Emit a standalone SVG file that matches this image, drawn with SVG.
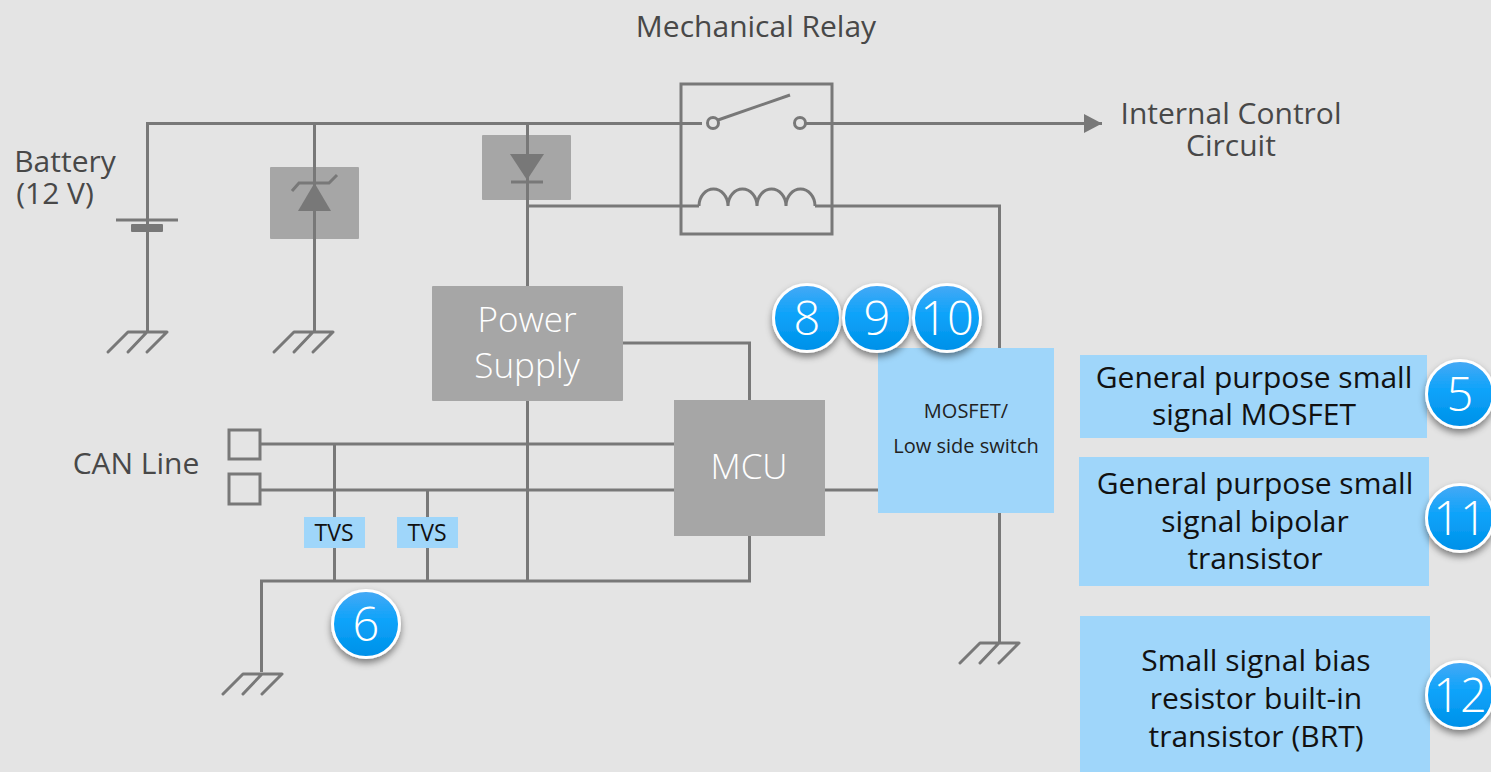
<svg xmlns="http://www.w3.org/2000/svg" width="1491" height="772" viewBox="0 0 1491 772">
<style>
text{font-family:"Open Sans","Noto Sans","Liberation Sans",sans-serif;text-anchor:middle}
.w{fill:none;stroke:#787878;stroke-width:3;stroke-linejoin:miter}
.f{fill:#787878;stroke:none}
.gb{fill:#a6a6a6}
.lb{fill:#9fd6fa}
.d{fill:#484848;font-size:30px}
.k{fill:#111;font-size:30px}
.s{fill:#222;font-size:20px}
.t{fill:#111;font-size:23px}
.wt{fill:#fff;font-size:35px;font-weight:300}
.badge{fill:url(#bg);stroke:#fff;stroke-width:3;filter:url(#sh)}
.n{fill:#fff;font-size:47px;font-weight:300}
</style>
<defs>
<linearGradient id="bg" x1="0" y1="0" x2="0" y2="1"><stop offset="0" stop-color="#47a9f5"/><stop offset=".45" stop-color="#0ca3fa"/><stop offset="1" stop-color="#0090e8"/></linearGradient>
<filter id="sh" x="-30%" y="-30%" width="160%" height="170%"><feDropShadow dx="0" dy="4" stdDeviation="3.5" flood-color="#000" flood-opacity=".45"/></filter>
<marker id="arr" markerUnits="userSpaceOnUse" markerWidth="19" markerHeight="19" refX="18" refY="9.5" orient="auto"><path d="M0 0L18 9.5L0 19Z" fill="#787878"/></marker>
<g id="gnd"><path class="w" d="M0 0H39M0 0L-20 20M19 0L0 20M39 0L19 20" style="stroke-linecap:round"/></g>
</defs>
<rect width="1491" height="772" fill="#e4e4e4"/>

<g id="connectors">
<path class="w" d="M147.500 276V123.500H702"/>
<path class="w" d="M147.500 276V332"/>
<path class="w" d="M314.500 123V332"/>
<path class="w" d="M527.500 123V286"/>
<path class="w" d="M527 206H699"/>
<path class="w" d="M806 123.500H1102" marker-end="url(#arr)"/>
<path class="w" d="M815 206H999.500V348"/>
<path class="w" d="M623 343H749.500V400"/>
<path class="w" d="M527.500 401V581"/>
<path class="w" d="M261.500 672V581H749.500V536"/>
<path class="w" d="M261 444H674"/>
<path class="w" d="M261 490H674"/>
<path class="w" d="M334.500 444V581"/>
<path class="w" d="M427.500 490V581"/>
<path class="w" d="M825 490H878"/>
<path class="w" d="M999.500 513V642"/>
</g>

<g id="tvs-diode"><rect x="270" y="167" width="89" height="72" rx="1" class="gb"/><path class="w" d="M314.500 123V240"/><path class="f" d="M314.500 183L331 211H298Z"/><path class="w" d="M292 191L299 183H329L337 175"/></g>
<g id="rect-diode"><rect x="482" y="135" width="89" height="65" rx="1" class="gb"/><path class="w" d="M527.500 123V200"/><path class="f" d="M510 154H544L527 180Z"/><path class="w" d="M511 182H543"/></g>

<g id="battery"><text class="d"><tspan x="65" y="172">Battery</tspan><tspan x="55" y="204">(12 V)</tspan></text><path class="w" d="M116 220H178"/><rect x="131" y="224" width="32" height="8" rx="1" class="f"/></g>
<g id="gnd1"><use href="#gnd" x="128" y="332"/></g>
<g id="gnd2"><use href="#gnd" x="294" y="332"/></g>
<g id="gnd3"><use href="#gnd" x="243" y="674"/></g>
<g id="gnd4"><use href="#gnd" x="980" y="643"/></g>

<g id="relay">
<rect x="681" y="84" width="151" height="150" class="w"/>
<circle cx="713" cy="123" r="5.5" fill="#e4e4e4" stroke="#787878" stroke-width="3"/>
<circle cx="800" cy="123" r="5.5" fill="#e4e4e4" stroke="#787878" stroke-width="3"/>
<path class="w" d="M718 120L790 95"/>
<path class="w" d="M699 206A14.500 17 0 0 1 728 206A14.500 17 0 0 1 757 206A14.500 17 0 0 1 786 206A14.500 17 0 0 1 815 206"/>
<text class="d" x="756" y="37">Mechanical Relay</text>
</g>
<g id="output-label"><text class="d"><tspan x="1231" y="124">Internal Control</tspan><tspan x="1231" y="156">Circuit</tspan></text></g>

<g id="power-supply"><rect x="432" y="286" width="191" height="115" rx="1" class="gb"/><text class="wt"><tspan x="527" y="332">Power</tspan><tspan x="527" y="378">Supply</tspan></text></g>
<g id="mcu"><rect x="674" y="400" width="151" height="136" class="gb"/><text class="wt" x="749" y="479">MCU</text></g>
<g id="mosfet"><rect x="878" y="348" width="176" height="165" class="lb"/><text class="s"><tspan x="966" y="418">MOSFET/</tspan><tspan x="966" y="453">Low side switch</tspan></text></g>

<g id="can"><rect x="229" y="430" width="31" height="29" class="w"/><rect x="229" y="474" width="31" height="30" class="w"/><text class="d" x="136" y="474">CAN Line</text></g>
<g id="tvs1"><rect x="304" y="517" width="61" height="31" class="lb"/><text class="t" x="334" y="541">TVS</text></g>
<g id="tvs2"><rect x="397" y="517" width="61" height="31" class="lb"/><text class="t" x="427" y="541">TVS</text></g>

<g id="label5"><rect x="1080" y="355" width="347" height="83" class="lb"/><text class="k"><tspan x="1254" y="388">General purpose small</tspan><tspan x="1254" y="425">signal MOSFET</tspan></text></g>
<g id="label11"><rect x="1079" y="457" width="350" height="129" class="lb"/><text class="k"><tspan x="1255" y="494">General purpose small</tspan><tspan x="1255" y="532">signal bipolar</tspan><tspan x="1255" y="569">transistor</tspan></text></g>
<g id="label12"><rect x="1080" y="616" width="350" height="156" class="lb"/><text class="k"><tspan x="1256" y="671">Small signal bias</tspan><tspan x="1256" y="709">resistor built-in</tspan><tspan x="1256" y="747">transistor (BRT)</tspan></text></g>

<g id="badge8"><circle cx="807" cy="318" r="33.5" class="badge"/><text class="n" x="807" y="335">8</text></g>
<g id="badge9"><circle cx="877" cy="318" r="33.5" class="badge"/><text class="n" x="877" y="335">9</text></g>
<g id="badge10"><circle cx="947" cy="318" r="33.5" class="badge"/><text class="n" x="947" y="335">10</text></g>
<g id="badge6"><circle cx="366" cy="624" r="33.5" class="badge"/><text class="n" x="366" y="641">6</text></g>
<g id="badge5"><circle cx="1460" cy="394" r="33.5" class="badge"/><text class="n" x="1460" y="411">5</text></g>
<g id="badge11"><circle cx="1460" cy="518" r="33.5" class="badge"/><text class="n" x="1460" y="535">11</text></g>
<g id="badge12"><circle cx="1460" cy="695" r="33.5" class="badge"/><text class="n" x="1460" y="712">12</text></g>
</svg>
